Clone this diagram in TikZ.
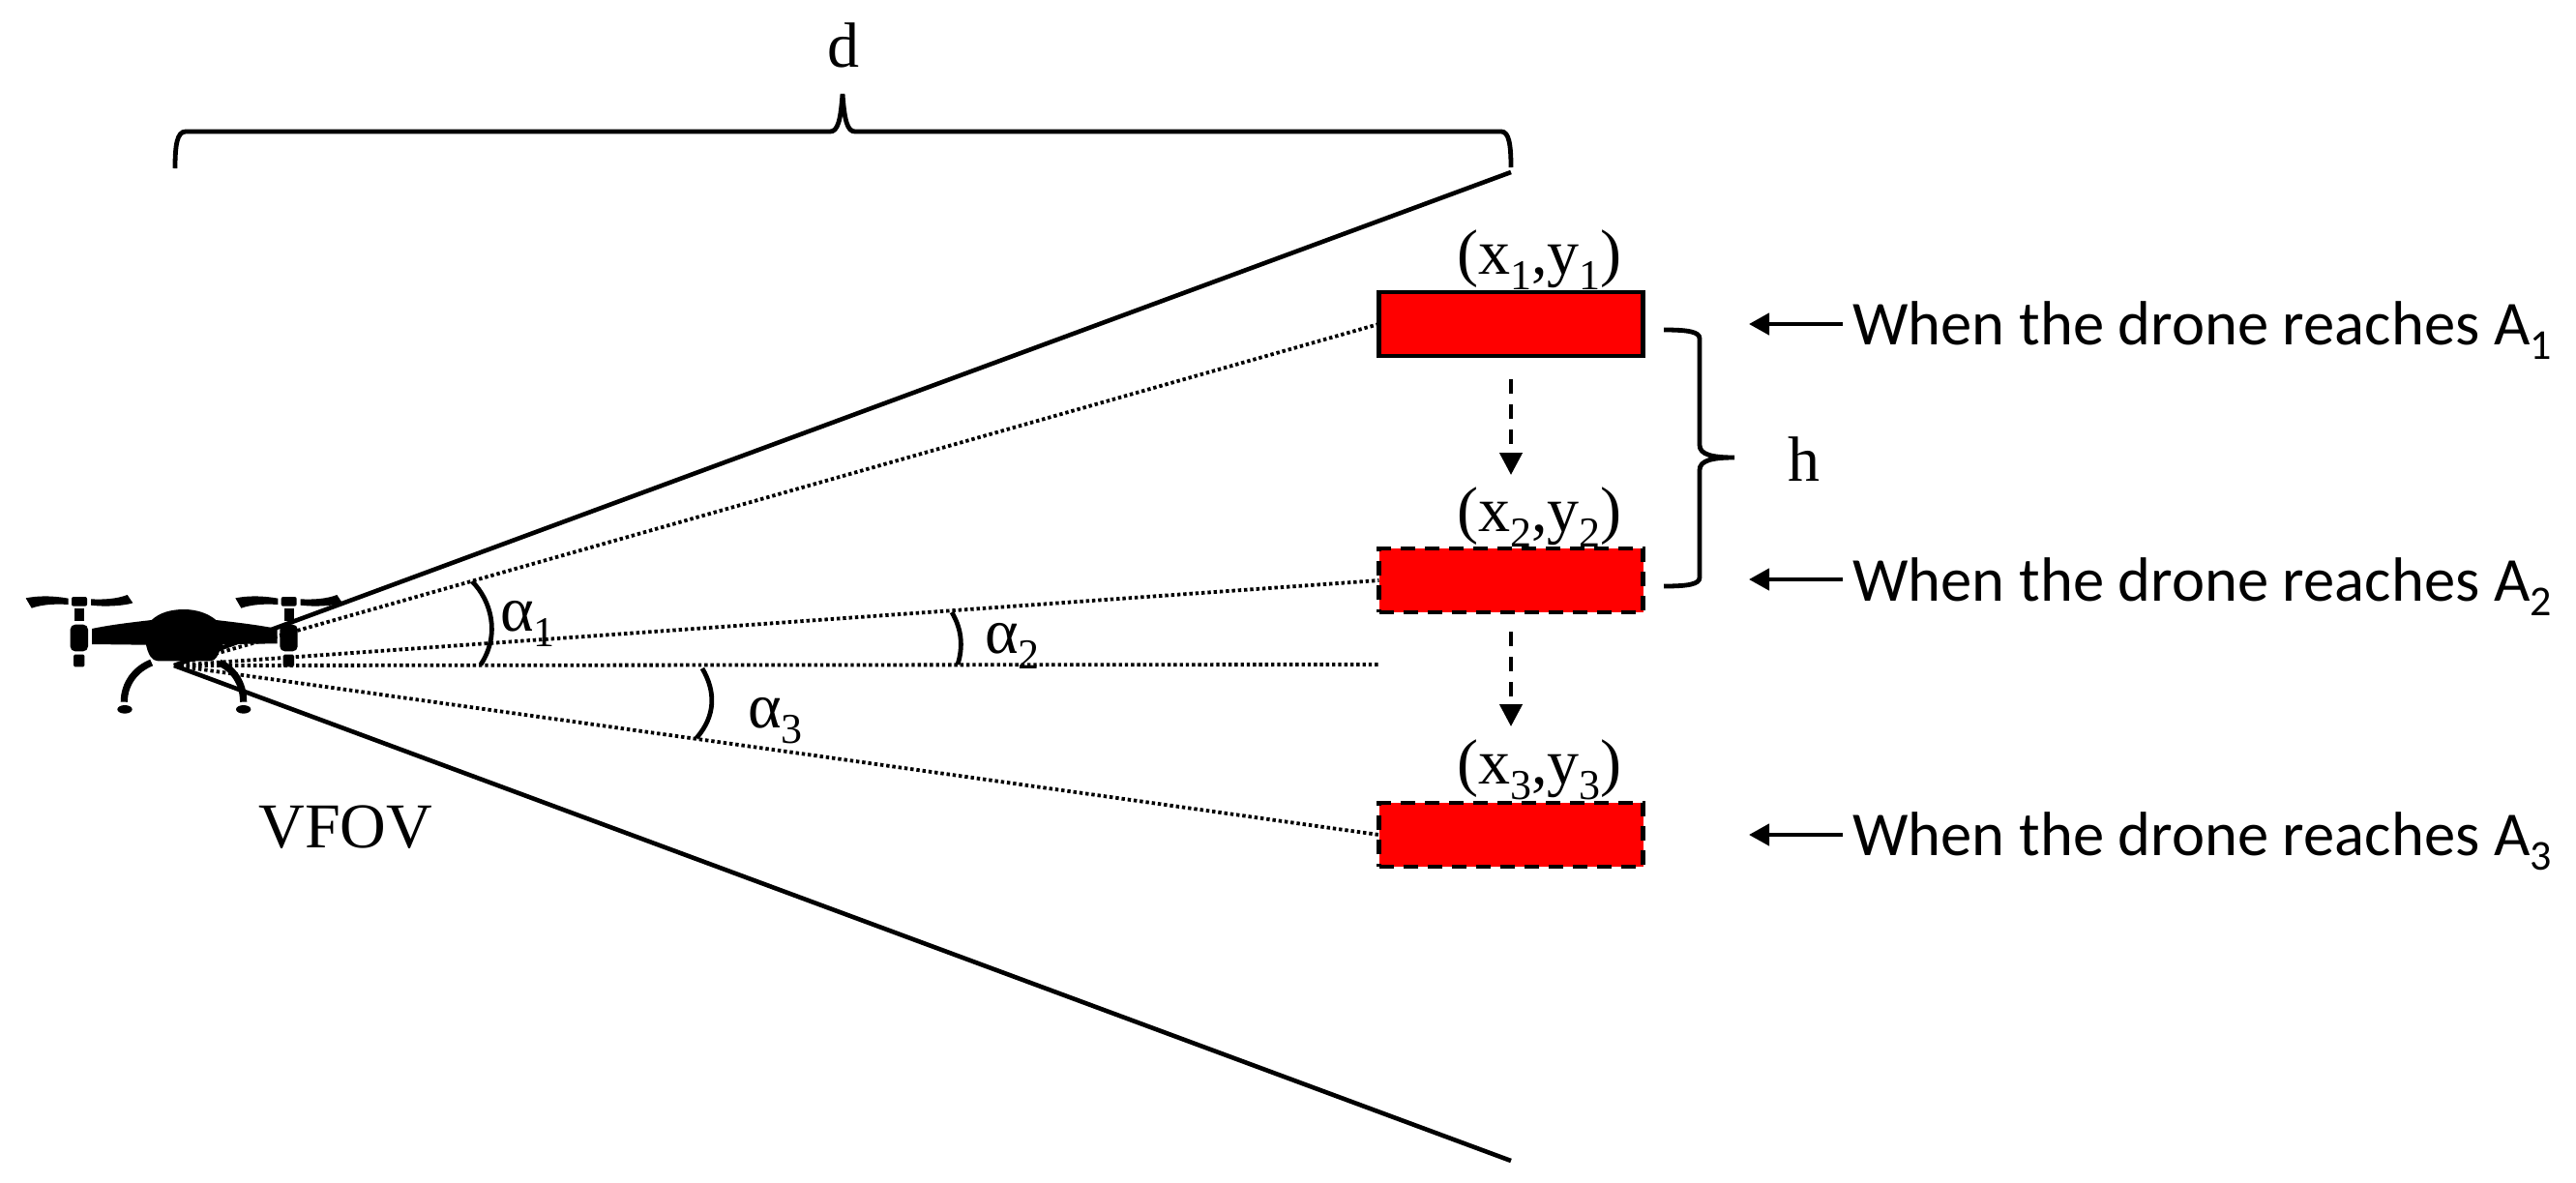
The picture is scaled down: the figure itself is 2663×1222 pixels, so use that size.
\documentclass[tikz,border=0pt]{standalone}
\usepackage{fontspec}
\setmainfont{Liberation Serif}
\newfontfamily\calfont{Carlito}
\usetikzlibrary{arrows.meta}
\newcommand{\serifsize}{\fontsize{33}{36}\selectfont}
\newcommand{\sbs}[1]{\raisebox{-8pt}{\fontsize{22}{24}\selectfont #1}}
\newcommand{\csbs}[1]{\raisebox{-7.5pt}{\fontsize{22}{24}\selectfont #1}}
\tikzset{
  solidline/.style={line width=2.3pt},
  dotline/.style={line width=1.9pt,dash pattern=on 1.7pt off 1.45pt},
  arcline/.style={line width=2.4pt},
  bracepath/.style={line width=2.4pt},
  redbox/.style={fill=red,draw=black,line width=2.4pt,inner sep=0pt,outer sep=0pt,minimum width=136.5pt,minimum height=33pt},
  dashbox/.style={redbox,dash pattern=on 7.5pt off 5pt},
  dasharrow/.style={line width=2.2pt,dash pattern=on 7.5pt off 5.5pt,-{Triangle[length=11.5pt,width=11.5pt]}},
  solidarrow/.style={line width=2.2pt,-{Triangle[length=10.5pt,width=11pt]}},
  serif/.style={font=\serifsize,inner sep=0pt,anchor=base west},
  sidetext/.style={font=\calfont\fontsize{32.3}{36}\selectfont,inner sep=0pt,anchor=base west},
  dronepart/.style={fill=black,draw=none},
  droneleg/.style={line width=3.6pt,line cap=butt}
}
\begin{document}
\begin{tikzpicture}[x=0.5pt,y=-0.5pt]
\useasboundingbox (0,0) rectangle (2663,1222);
% drone
\begin{scope}[shift={(0,560)},x=0.16667pt,y=-0.16667pt]
  \foreach \dx in {0,650}{
    \begin{scope}[shift={(\dx,0)}]
    \fill[dronepart] (80,175) .. controls (130,165) and (180,170) .. (212,176) -- (212,195) .. controls (170,192) and (130,195) .. (98,206) -- cycle;
    \fill[dronepart] (282,178) .. controls (320,180) and (360,178) .. (395,165) -- (412,190) .. controls (380,200) and (320,202) .. (282,197) -- cycle;
    \fill[dronepart,rounded corners=1pt] (222,171) rectangle (270,200);
    \fill[dronepart] (231,208) rectangle (262,245);
    \fill[dronepart,rounded corners=2.5pt] (218,257) rectangle (273,340);
    \fill[dronepart,rounded corners=0.7pt] (228,350) rectangle (262,388);
    \end{scope}
  }
  \fill[dronepart] (285,270) .. controls (340,258) and (410,250) .. (470,243) .. controls (495,220) and (530,210) .. (570,210) .. controls (610,210) and (645,222) .. (670,243) .. controls (730,250) and (800,258) .. (860,270) -- (860,316) -- (692,318) -- (672,358) .. controls (668,366) and (660,370) .. (650,370) -- (490,370) .. controls (470,370) and (460,350) .. (453,320) -- (285,318) -- cycle;
  \draw[droneleg] (470,375) .. controls (420,395) and (385,440) .. (385,497);
  \draw[droneleg] (680,375) .. controls (725,395) and (755,440) .. (755,497);
  \fill[dronepart] (387,520) ellipse [x radius=23,y radius=13];
  \fill[dronepart] (755,520) ellipse [x radius=23,y radius=13];
\end{scope}
% red boxes
\coordinate (apex) at (180,688);
\coordinate (midend) at (1425,687);
\coordinate (topend) at (1562,178);
\coordinate (botend) at (1562,1200);
\node[redbox] (r1) at (1562,335) {};
\node[dashbox] (r2) at (1562,600) {};
\node[dashbox] (r3) at (1562,863) {};
% field of view
\draw[solidline] (apex) -- (topend);
\draw[solidline] (apex) -- (botend);
\draw[dotline] (apex) -- (r1.west);
\draw[dotline] (apex) -- (r2.west);
\draw[dotline] (apex) -- (midend);
\draw[dotline] (apex) -- (r3.west);
% angle arcs
\draw[arcline] (488,601) .. controls (507,620) and (518,655) .. (497,687);
\draw[arcline] (984,633) .. controls (994,650) and (996,668) .. (990,687);
\draw[arcline] (726,691) .. controls (740,715) and (740,740) .. (720,763);
% angle labels
\node[serif] (a1) at (517,652) {α\sbs{1}};
\node[serif] (a2) at (1018,675) {α\sbs{2}};
\node[serif] (a3) at (773,752) {α\sbs{3}};
% dashed arrows
\draw[dasharrow,shorten <=12pt,shorten >=38pt] (r1.south) -- (r2.north);
\draw[dasharrow,shorten <=10pt,shorten >=39.5pt] (r2.south) -- (r3.north);
% coordinates labels
\node[serif] (p1) at (1506,283) {(x\sbs{1},y\sbs{1})};
\node[serif] (p2) at (1506,549) {(x\sbs{2},y\sbs{2})};
\node[serif] (p3) at (1506,810) {(x\sbs{3},y\sbs{3})};
% other labels
\node[serif] (vfov) at (267,876) {VFOV};
\node[serif] (dlab) at (855,69) {d};
\node[serif] (hlab) at (1848,497) {h};
% braces
\draw[bracepath] (181,174) .. controls (181,150) and (183,136) .. (192,136) -- (858,136) .. controls (866,136) and (869,125) .. (871,97) .. controls (873,125) and (876,136) .. (884,136) -- (1552,136) .. controls (1560,136) and (1562,150) .. (1562,173);
\draw[bracepath] (1720,341) .. controls (1745,341) and (1757,343) .. (1757,350) -- (1757,460) .. controls (1757,470) and (1770,473) .. (1793,473) .. controls (1770,473) and (1757,476) .. (1757,486) -- (1757,597) .. controls (1757,604) and (1745,606) .. (1720,606);
% side texts
\node[sidetext] (t1) at (1915,356) {When the drone reaches A\csbs{1}};
\node[sidetext] (t2) at (1915,621) {When the drone reaches A\csbs{2}};
\node[sidetext] (t3) at (1915,884) {When the drone reaches A\csbs{3}};
\coordinate (s1) at (1905,335);
\coordinate (e1) at (1808,335);
\coordinate (s2) at (1905,599);
\coordinate (e2) at (1808,599);
\coordinate (s3) at (1905,863);
\coordinate (e3) at (1808,863);
\draw[solidarrow] (s1) -- (e1);
\draw[solidarrow] (s2) -- (e2);
\draw[solidarrow] (s3) -- (e3);
\end{tikzpicture}
\end{document}
